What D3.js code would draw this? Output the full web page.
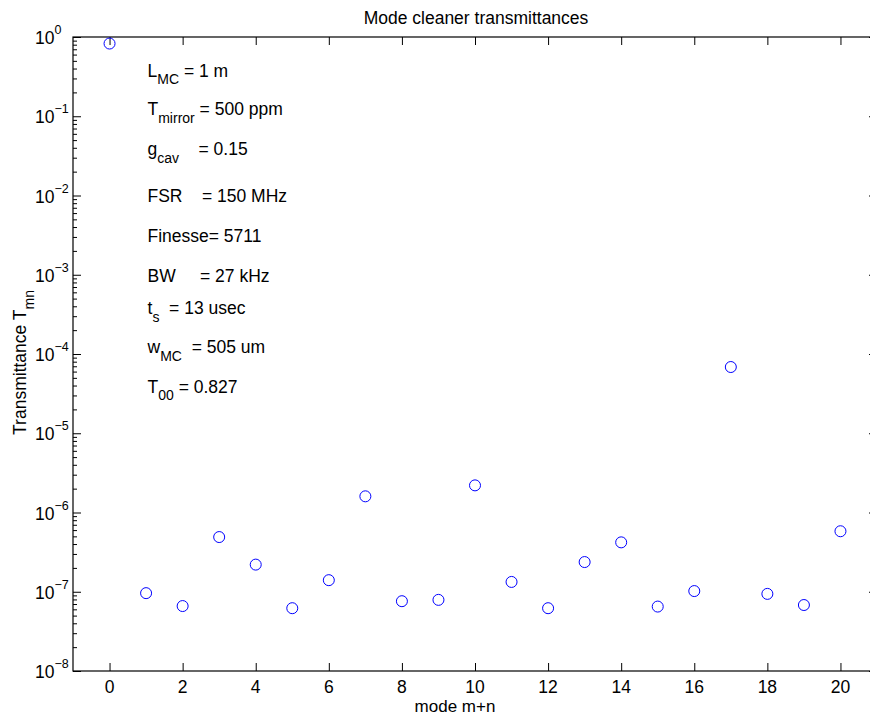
<!DOCTYPE html>
<html><head><meta charset="utf-8">
<script src="https://cdn.jsdelivr.net/npm/d3@7"></script>
<style>
body{margin:0;background:#fff}
text{font-family:"Liberation Sans",Arial,Helvetica,sans-serif;fill:#000;white-space:pre}
</style>
</head><body>
<svg id="chart" width="870" height="716"></svg>
<script>
// ---- data ----
const modes = [0,1,2,3,4,5,6,7,8,9,10,11,12,13,14,15,16,17,18,19,20];
const transmittance = [0.827, 9.6e-8, 6.6e-8, 4.9e-7, 2.2e-7, 6.2e-8, 1.4e-7, 1.6e-6, 7.6e-8, 7.9e-8,
  2.2e-6, 1.33e-7, 6.2e-8, 2.37e-7, 4.2e-7, 6.5e-8, 1.02e-7, 6.85e-5, 9.4e-8, 6.8e-8, 5.8e-7];
const xTickValues = [0,2,4,6,8,10,12,14,16,18,20];
const yTickExponents = [0,-1,-2,-3,-4,-5,-6,-7,-8];
const titleText = "Mode cleaner transmittances";
const xLabelText = "mode m+n";
// annotation lines: [text, isSubscript]
const annotationLines = [
  [["L",0],["MC",1],[" = 1 m",0]],
  [["T",0],["mirror",1],[" = 500 ppm",0]],
  [["g",0],["cav",1],["    = 0.15",0]],
  [["FSR    = 150 MHz",0]],
  [["Finesse= 5711",0]],
  [["BW     = 27 kHz",0]],
  [["t",0],["s",1],["  = 13 usec",0]],
  [["w",0],["MC",1],["  = 505 um",0]],
  [["T",0],["00",1],[" = 0.827",0]]
];
const annotationBaselines = [76.7, 115, 155, 201.5, 242, 281.5, 314, 353, 392.5];

// ---- layout ----
const svg = d3.select("#chart");
const pL = 73, pR = 877, pT = 37, pB = 671;
const FS = 17.5, SFS = 14;

const x = d3.scaleLinear().domain([-1, 21]).range([pL, pR]);
const y = d3.scaleLog().domain([1e-8, 1]).range([pB, pT]);

const g = svg.append("g");

// axes box
g.append("rect").attr("x", pL).attr("y", pT).attr("width", pR-pL).attr("height", pB-pT)
  .attr("fill","none").attr("stroke","#000").attr("stroke-width",1.2);

// x ticks (bottom & top, inward)
const xAxisB = d3.axisBottom(x).tickValues(xTickValues).tickSize(-8).tickFormat("");
const xAxisT = d3.axisTop(x).tickValues(xTickValues).tickSize(-8).tickFormat("");
const gxb = g.append("g").attr("transform",`translate(0,${pB})`).call(xAxisB);
const gxt = g.append("g").attr("transform",`translate(0,${pT})`).call(xAxisT);
[gxb,gxt].forEach(a=>{a.select(".domain").remove(); a.selectAll("line").attr("stroke","#000");});

// x tick labels
g.selectAll(".xtl").data(xTickValues).enter().append("text")
  .attr("x", d=>x(d)).attr("y", 692.5).attr("text-anchor","middle")
  .style("font-size", FS+"px").text(d=>d);

// y ticks: major and minor
const majorVals = yTickExponents.map(e=>Math.pow(10,e));
const minorVals = [];
yTickExponents.forEach(e=>{ if(e<0){ [2,3,4,5,6,7,8,9].forEach(m=>minorVals.push(m*Math.pow(10,e))); } });
const yAxisL = d3.axisLeft(y).tickValues(majorVals).tickSize(-8).tickFormat("");
const yAxisR = d3.axisRight(y).tickValues(majorVals).tickSize(-8).tickFormat("");
const yAxisLm = d3.axisLeft(y).tickValues(minorVals).tickSize(-4).tickFormat("");
const yAxisRm = d3.axisRight(y).tickValues(minorVals).tickSize(-4).tickFormat("");
[[yAxisL,pL],[yAxisR,pR],[yAxisLm,pL],[yAxisRm,pR]].forEach(([ax,pos])=>{
  const a = g.append("g").attr("transform",`translate(${pos},0)`).call(ax);
  a.select(".domain").remove(); a.selectAll("line").attr("stroke","#000");
});

// y tick labels (10^e)
yTickExponents.forEach(e=>{
  const t = g.append("text").attr("x", 35).attr("y", y(Math.pow(10,e))+7).style("font-size", FS+"px");
  t.append("tspan").text("10");
  t.append("tspan").attr("dy",-10).style("font-size","12.5px").text(e===0 ? "0" : "\u2212"+(-e));
});

// data markers
g.selectAll(".pt").data(modes).enter().append("circle")
  .attr("cx", (d)=>x(d)).attr("cy", (d,i)=>y(transmittance[i])).attr("r", 5.5)
  .attr("fill","none").attr("stroke","#0000ff").attr("stroke-width",1);

// annotations
annotationLines.forEach((line,i)=>{
  const t = g.append("text").attr("x",147.5).attr("y",annotationBaselines[i]).style("font-size",FS+"px");
  let shifted = false;
  line.forEach(([s,sub])=>{
    const ts = t.append("tspan").text(s);
    if(sub){ ts.attr("dy",7.5).style("font-size",SFS+"px"); shifted = true; }
    else if(shifted){ ts.attr("dy",-7.5); shifted = false; }
  });
});

// title
g.append("text").attr("x",476).attr("y",24).attr("text-anchor","middle").style("font-size",FS+"px").text(titleText);
// x label
g.append("text").attr("x",455).attr("y",712).attr("text-anchor","middle").style("font-size","17px").text(xLabelText);
// y label
const yl = g.append("text").attr("transform","translate(26,290) rotate(-90)").attr("text-anchor","end").style("font-size",FS+"px");
yl.append("tspan").text("Transmittance T");
yl.append("tspan").attr("dy",7.5).style("font-size",SFS+"px").text("mn");
</script>
</body></html>
